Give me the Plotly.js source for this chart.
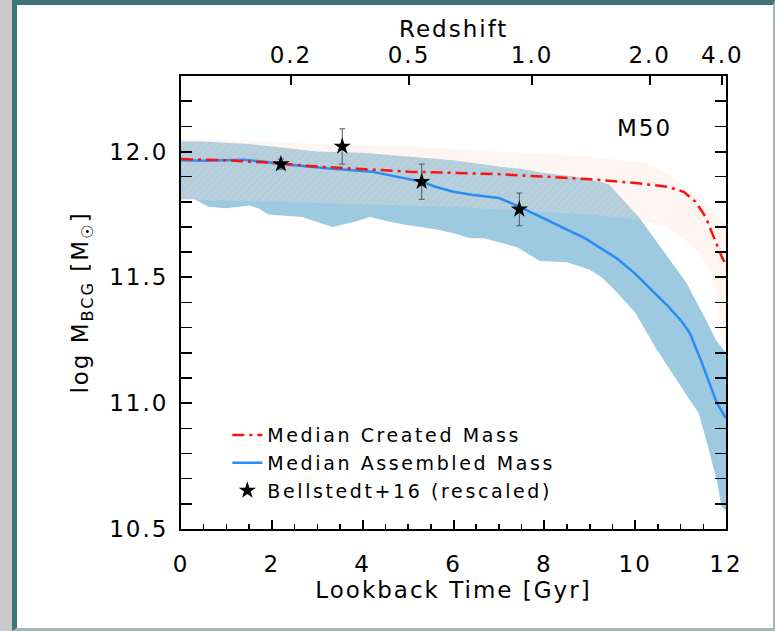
<!DOCTYPE html>
<html>
<head>
<meta charset="utf-8">
<script src="https://cdn.plot.ly/plotly-3.0.1.min.js"></script>
<style>
  html, body { margin: 0; padding: 0; background: #c9c9c9; }
  #frame {
    position: absolute; left: 12px; top: 0;
    width: 756px; height: 623px; background: #fff;
    border-left: 5px solid #3e7474; border-top: 5px solid #3e7474;
    border-right: 2px solid #a3b8b8; border-bottom: 3px solid #a3b8b8;
  }
  #chart { width: 756px; height: 623px; }
  svg text { letter-spacing: 2px; }
  svg text.legendtext { letter-spacing: 2.6px; }
</style>
</head>
<body>
<div id="frame"><div id="chart"></div></div>
<script>
// Assembled-mass scatter band (upper / lower envelope), lookback time in Gyr
const asmUpperT = [0, 0.5, 1.0, 1.5, 2.0, 2.5, 3.0, 4.0, 5.0, 6.0, 7.0, 7.5, 8.0, 8.5, 9.0, 9.42, 10.08, 10.75, 11.12, 11.56, 11.78, 12.0];
const asmUpperM = [12.04, 12.04, 12.035, 12.03, 12.02, 12.01, 12.0, 11.995, 11.98, 11.965, 11.94, 11.93, 11.915, 11.905, 11.89, 11.87, 11.74, 11.57, 11.48, 11.33, 11.25, 11.2];
const asmLowerT = [0, 0.3, 0.6, 1.0, 1.5, 1.7, 1.93, 2.3, 2.67, 3.0, 3.33, 3.8, 4.16, 4.5, 4.9, 5.3, 5.64, 6.0, 6.38, 6.67, 7.0, 7.4, 7.9, 8.5, 9.0, 9.26, 9.6, 10.0, 10.45, 11.1, 11.4, 11.6, 11.8, 11.9, 12.0];
const asmLowerM = [11.81, 11.81, 11.78, 11.775, 11.785, 11.775, 11.75, 11.745, 11.74, 11.72, 11.70, 11.72, 11.74, 11.725, 11.71, 11.70, 11.69, 11.675, 11.655, 11.655, 11.64, 11.62, 11.565, 11.56, 11.53, 11.50, 11.44, 11.36, 11.22, 11.04, 10.96, 10.83, 10.69, 10.59, 10.57];

// Created-mass scatter band
const creUpperT = [0, 1, 2, 3, 4, 5, 6, 7, 8, 9, 10, 10.4, 10.8, 11.1, 11.5, 11.87, 12.0];
const creUpperM = [12.05, 12.045, 12.04, 12.03, 12.025, 12.02, 12.01, 12.0, 11.99, 11.98, 11.96, 11.945, 11.9, 11.86, 11.79, 11.74, 11.7];
const creLowerT = [0, 2, 4, 6, 8, 9, 10.08, 10.7, 11.41, 11.65, 11.78, 11.85, 12.0];
const creLowerM = [11.81, 11.80, 11.79, 11.78, 11.76, 11.75, 11.73, 11.70, 11.60, 11.52, 11.45, 11.30, 11.21];

// Median curves
const asmMedT = [0, 0.5, 1.0, 1.4, 1.8, 2.2, 2.8, 3.4, 4.2, 4.9, 5.3, 5.6, 6.0, 6.4, 7.0, 7.4, 8.15, 8.9, 9.6, 10.0, 10.33, 10.7, 11.0, 11.2, 11.47, 11.8, 12.0];
const asmMedM = [11.965, 11.963, 11.965, 11.967, 11.96, 11.95, 11.94, 11.93, 11.92, 11.895, 11.88, 11.86, 11.84, 11.828, 11.815, 11.785, 11.72, 11.655, 11.575, 11.515, 11.455, 11.39, 11.33, 11.28, 11.16, 11.0, 10.94];
const creMedT = [0, 1, 2, 3, 4, 5, 6, 7, 8, 9, 10, 10.7, 11.07, 11.33, 11.55, 11.78, 11.91, 12.0];
const creMedM = [11.97, 11.965, 11.955, 11.94, 11.93, 11.92, 11.915, 11.91, 11.9, 11.89, 11.875, 11.86, 11.84, 11.80, 11.74, 11.64, 11.58, 11.55];

// Bellstedt+16 observations (rescaled)
const obsT = [2.2, 3.55, 5.3, 7.45];
const obsM = [11.95, 12.02, 11.88, 11.77];
const obsErr = [0.02, 0.07, 0.07, 0.065];

// Redshift ticks on the top axis, placed at their lookback times
const zLabels = ['0.2', '0.5', '1.0', '2.0', '4.0'];
const zLookback = [2.42, 5.02, 7.73, 10.32, 11.92];

const band = (tU, mU, tL, mL) => ({
  x: tU.concat(tL.slice().reverse()),
  y: mU.concat(mL.slice().reverse())
});
const asmBand = band(asmUpperT, asmUpperM, asmLowerT, asmLowerM);
const creBand = band(creUpperT, creUpperM, creLowerT, creLowerM);

const FONT = 'DejaVu Sans, sans-serif';
const PINK = 'rgba(252,212,194,0.24)';

const asmFill = {
  x: asmBand.x, y: asmBand.y, type: 'scatter', mode: 'lines',
  fill: 'toself', fillcolor: '#9ecae1', line: {width: 0},
  showlegend: false, hoverinfo: 'skip'
};
const creFill = {
  x: creBand.x, y: creBand.y, type: 'scatter', mode: 'lines',
  fill: 'toself', fillcolor: PINK, line: {width: 0},
  fillpattern: {shape: '/', size: 5, solidity: 0.2,
                fgcolor: '#ffffff', fgopacity: 0.15, bgcolor: PINK},
  showlegend: false, hoverinfo: 'skip'
};
const creLine = {
  x: creMedT, y: creMedM, type: 'scatter', mode: 'lines',
  name: 'Median Created Mass', legendrank: 1,
  line: {color: '#ff1010', width: 2.5, dash: '12px,5px,3px,5px'}
};
const asmLine = {
  x: asmMedT, y: asmMedM, type: 'scatter', mode: 'lines',
  name: 'Median Assembled Mass', legendrank: 2,
  line: {color: '#2a8cf5', width: 2.5}
};
const obsPts = {
  x: obsT, y: obsM, xaxis: 'x2', type: 'scatter', mode: 'markers',
  name: 'Bellstedt+16 (rescaled)', legendrank: 3,
  marker: {symbol: 'star', size: 13, color: '#000'},
  error_y: {type: 'data', array: obsErr, visible: true,
            color: '#555', thickness: 1, width: 3}
};

// draw order: bands, assembled median, created median on top, then the stars
const traces = [asmFill, creFill, asmLine, creLine, obsPts];

const axisCommon = {
  showline: true, linecolor: '#000', linewidth: 2,
  ticks: 'inside', tickcolor: '#000', tickwidth: 2,
  showgrid: false, zeroline: false,
  tickfont: {family: FONT, size: 23, color: '#000'}
};

const layout = {
  width: 756, height: 623,
  margin: {l: 164, r: 47, t: 71, b: 99, pad: 0},
  paper_bgcolor: '#fff', plot_bgcolor: '#fff',
  font: {family: FONT, color: '#000'},
  showlegend: true,
  legend: {
    x: 0.085, y: 0.249, xanchor: 'left', yanchor: 'top',
    bgcolor: 'rgba(0,0,0,0)', borderwidth: 0,
    font: {family: FONT, size: 19, color: '#000'},
    traceorder: 'normal'
  },
  xaxis: Object.assign({}, axisCommon, {
    range: [0, 12], dtick: 2, tick0: 0, ticklen: 9,
    mirror: true,
    minor: {dtick: 0.5, ticks: 'inside', ticklen: 5, tickwidth: 1.5, tickcolor: '#000'},
    ticklabelstandoff: 13,
    title: {text: 'Lookback Time [Gyr]', font: {family: FONT, size: 23}, standoff: 5}
  }),
  xaxis2: Object.assign({}, axisCommon, {
    overlaying: 'x', side: 'top', anchor: 'y',
    range: [0, 12], tickmode: 'array', tickvals: zLookback, ticktext: zLabels,
    ticklen: 9, ticklabelstandoff: 2
  }),
  yaxis: Object.assign({}, axisCommon, {
    range: [10.5, 12.3], dtick: 0.5, tick0: 10.5, tickformat: '.1f', ticklen: 11,
    mirror: 'allticks',
    minor: {dtick: 0.1, ticks: 'inside', ticklen: 5, tickwidth: 1.5, tickcolor: '#000'},
    ticklabelstandoff: 6,
    title: {text: 'log M<sub>BCG</sub> [M<sub>☉</sub>]', font: {family: FONT, size: 23}, standoff: 14}
  }),
  annotations: [
    {
      text: 'Redshift', xref: 'paper', yref: 'paper', x: 0.5, y: 1.104,
      xanchor: 'center', yanchor: 'middle', showarrow: false,
      font: {family: FONT, size: 23, color: '#000'}
    },
    {
      text: 'M50', xref: 'paper', yref: 'paper', x: 0.851, y: 0.885,
      xanchor: 'center', yanchor: 'middle', showarrow: false,
      font: {family: FONT, size: 23, color: '#000'}
    }
  ]
};

Plotly.newPlot('chart', traces, layout, {displayModeBar: false, staticPlot: true});
</script>
</body>
</html>
